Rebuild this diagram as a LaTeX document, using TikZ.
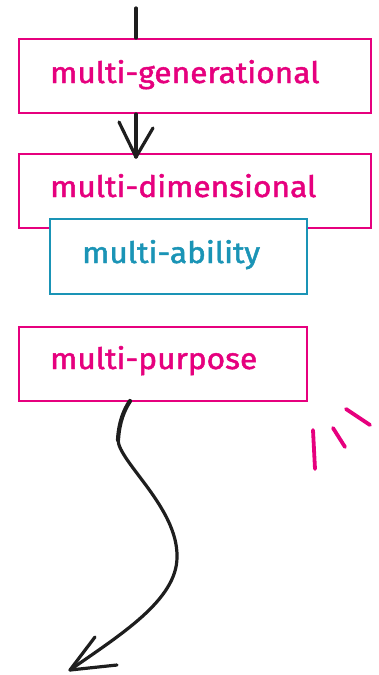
\documentclass[tikz,border=0pt]{standalone}
\usepackage{fontspec}
\setmainfont{Fira Sans}
\newfontfamily\lblfont[FakeBold=1.6,FakeStretch=1.075]{Fira Sans}
\usetikzlibrary{calc}
\definecolor{pinkc}{HTML}{E6007E}
\definecolor{tealc}{HTML}{1A94B6}
\definecolor{inkc}{HTML}{1E1E1E}
\tikzset{
  x=1pt,y=-1pt,
  box/.style={draw=pinkc,line width=2pt,fill=white,rectangle,inner sep=0pt,anchor=north west},
  tbox/.style={draw=tealc,line width=2pt,fill=white,rectangle,inner sep=0pt,anchor=north west},
  lbl/.style={anchor=base west,inner sep=0pt,font=\lblfont\fontsize{29.5}{33}\selectfont},
  ink/.style={draw=inkc,line width=3.2pt,line cap=round,line join=round},
  pinkmark/.style={draw=pinkc,line width=3.8pt,line cap=round}
}
\begin{document}
\begin{tikzpicture}
\useasboundingbox (0,0) rectangle (379,675);
% boxes
\node[box,minimum width=352pt,minimum height=74pt] (gen) at (18,38) {};
\node[lbl,text=pinkc] at (50,83) {multi-generational};
\node[box,minimum width=352pt,minimum height=74pt] (dim) at (18,153) {};
\node[lbl,text=pinkc] at (50,197) {multi-dimensional};
\node[tbox,minimum width=257pt,minimum height=75pt] (abi) at (49,218) {};
\node[lbl,text=tealc] at (82,263) {multi-ability};
\node[box,minimum width=288pt,minimum height=74pt] (pur) at (18,326) {};
\node[lbl,text=pinkc] at (50,369) {multi-purpose};
% top line
\coordinate (top) at (136,8);
\draw[ink] (top) -- (top |- gen.north);
% arrow gen -> dim
\coordinate (tip1) at (136,157);
\draw[ink] (tip1 |- gen.south) -- (tip1);
\draw[ink] (119,122) -- (tip1) -- (153,128);
% curvy arrow
\coordinate (c0) at (130,401);
\coordinate (tip2) at (70,670);
\draw[ink,line width=4.2pt] (c0) .. controls (124,410) and (119,422) .. (118,440);
\draw[ink] (118,440) .. controls (119,462) and (178,508) .. (177,557)
  .. controls (177,600) and (120,635) .. (tip2);
\draw[ink] (95,637) -- (tip2) -- (117,665);
% pink marks
\draw[pinkmark] (313,430) -- (315,469);
\draw[pinkmark] (333,428) -- (345,447);
\draw[pinkmark] (346,409) -- (370,425);
\end{tikzpicture}
\end{document}
